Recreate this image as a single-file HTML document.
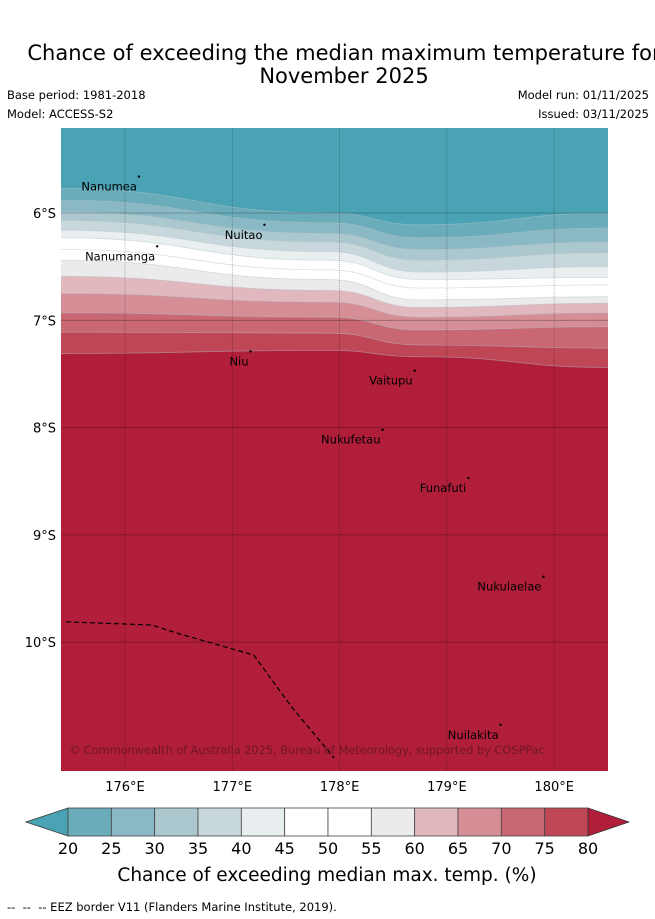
<!DOCTYPE html>
<html><head><meta charset="utf-8">
<style>
body{margin:0;background:#fff;font-family:"Liberation Sans","DejaVu Sans",sans-serif;}
#wrap{position:relative;width:655px;height:919px;overflow:hidden;}
.t{position:absolute;white-space:nowrap;color:#000;}
</style></head>
<body>
<div id="wrap">
<div class="t" style="left:0;width:688px;top:42px;text-align:center;font-size:21px;line-height:23px;font-family:'DejaVu Sans',sans-serif;">Chance of exceeding the median maximum temperature for<br>November 2025</div>
<div class="t" style="left:7px;top:88px;font-size:11.5px;font-family:'DejaVu Sans',sans-serif;">Base period: 1981-2018</div>
<div class="t" style="left:7px;top:107px;font-size:11.5px;font-family:'DejaVu Sans',sans-serif;">Model: ACCESS-S2</div>
<div class="t" style="right:6px;top:88px;font-size:11.5px;font-family:'DejaVu Sans',sans-serif;">Model run: 01/11/2025</div>
<div class="t" style="right:6px;top:107px;font-size:11.5px;font-family:'DejaVu Sans',sans-serif;">Issued: 03/11/2025</div>
<svg id="map" width="655" height="919" style="position:absolute;left:0;top:0;font-family:'DejaVu Sans',sans-serif;"></svg>
<div class="t" style="left:7px;top:900px;font-size:11.5px;font-family:'DejaVu Sans',sans-serif;">--&nbsp; --&nbsp; -- EEZ border V11 (Flanders Marine Institute, 2019).</div>
</div>
<script>
const lons=[175.4,177.9,178.75,180.5];
const levels=[20,25,30,35,40,45,50,55,60,65,70,75,80];
const bnd20=[5.77,6.00,6.11,6.00];
const bnd25=[5.88,6.09,6.23,6.14];
const bnd30=[5.99,6.19,6.34,6.27];
const bnd35=[6.07,6.27,6.44,6.37];
const bnd40=[6.16,6.36,6.55,6.50];
const bnd45=[6.23,6.44,6.62,6.60];
const bnd50=[6.34,6.53,6.70,6.67];
const bnd55=[6.44,6.62,6.81,6.78];
const bnd60=[6.59,6.72,6.88,6.84];
const bnd65=[6.75,6.83,6.97,6.93];
const bnd70=[6.93,6.97,7.09,7.06];
const bnd75=[7.11,7.12,7.23,7.26];
const bnd80=[7.31,7.28,7.34,7.44];
const boundaries=[bnd20,bnd25,bnd30,bnd35,bnd40,bnd45,bnd50,bnd55,bnd60,bnd65,bnd70,bnd75,bnd80];
const bandColors=["#4aa3b4","#6aacba","#8ab8c4","#abc8ce","#c8d7dc","#e9eff1","#ffffff","#ffffff","#ecebec","#e0b8be","#d58d96","#c96772","#bf4655"];
const highColor="#b01e39";
const lonTicks=[176,177,178,179,180];
const latTicks=[6,7,8,9,10];
const islandNames=["Nanumea","Nuitao","Nanumanga","Niu","Vaitupu","Nukufetau","Funafuti","Nukulaelae","Nuilakita"];
const islandLon=[176.13,177.3,176.3,177.17,178.7,178.4,179.2,179.9,179.5];
const islandLat=[5.66,6.11,6.31,7.29,7.47,8.02,8.47,9.39,10.77];
const eezLon=[175.45,176.25,176.5,177.2,177.55,177.95];
const eezLat=[9.81,9.84,9.92,10.12,10.6,11.08];

const X0=61,X1=608,Y0=128,Y1=771;
const sx=lon=>125+(lon-176)*107.3;
const sy=lat=>213+(lat-6)*107.3;
const NS="http://www.w3.org/2000/svg";
const svg=document.getElementById('map');
function mk(t,a){const e=document.createElementNS(NS,t);for(const k in a)e.setAttribute(k,a[k]);return e;}
const defs=mk('defs',{});const cp=mk('clipPath',{id:'cp'});cp.appendChild(mk('rect',{x:X0,y:Y0,width:X1-X0,height:Y1-Y0}));defs.appendChild(cp);svg.appendChild(defs);
const g=mk('g',{'clip-path':'url(#cp)'});svg.appendChild(g);
const bg=mk('rect',{x:X0,y:Y0,width:X1-X0,height:Y1-Y0,fill:highColor});


g.appendChild(bg);
function curve(b){
  const pts=lons.map((l,i)=>[sx(l),sy(b[i])]);
  pts[0][0]=X0-2;pts[pts.length-1][0]=X1+2;
  let d='M'+pts[0][0]+','+pts[0][1];
  for(let i=1;i<pts.length;i++){const p=pts[i-1],q=pts[i],mx=(p[0]+q[0])/2;d+=` C${mx},${p[1]} ${mx},${q[1]} ${q[0]},${q[1]}`;}
  return d;
}
for(let k=boundaries.length-1;k>=0;k--){
  const c=curve(boundaries[k]);
  const p=mk('path',{});
  const pts=lons.map((l,i)=>[i==0?X0-2:(i==lons.length-1?X1+2:sx(l)),sy(boundaries[k][i])]);
  let d=`M${X0-2},${Y0-2} L${X1+2},${Y0-2} L${pts[pts.length-1][0]},${pts[pts.length-1][1]}`;
  for(let i=pts.length-2;i>=0;i--){const p2=pts[i+1],q=pts[i],mx=(p2[0]+q[0])/2;d+=` C${mx},${p2[1]} ${mx},${q[1]} ${q[0]},${q[1]}`;}
  d+=' Z';
  p.setAttribute('d',d);p.setAttribute('fill',bandColors[k]);
  
  
  g.appendChild(p);
  const ln=mk('path',{d:c,fill:'none',stroke:'rgba(180,195,200,0.5)','stroke-width':0.8});
  
  
  g.appendChild(ln);
}
lonTicks.forEach(l=>{
  const x=sx(l);
  const gl=mk('line',{x1:x,x2:x,y1:Y0,y2:Y1,stroke:'rgba(0,0,0,0.35)','stroke-width':0.8,'stroke-dasharray':'1,1'});
  
  
  g.appendChild(gl);
  const t=mk('text',{x:x,y:791,'font-size':13,'text-anchor':'middle'});t.textContent=l+'°E';
  
  
  svg.appendChild(t);
});
latTicks.forEach(l=>{
  const y=sy(l);
  const gl=mk('line',{x1:X0,x2:X1,y1:y,y2:y,stroke:'rgba(0,0,0,0.3)','stroke-width':0.8});
  
  
  g.appendChild(gl);
  const t=mk('text',{x:56,y:y+5,'font-size':13,'text-anchor':'end'});t.textContent=l+'°S';
  
  
  svg.appendChild(t);
});
let ed='';eezLon.forEach((l,i)=>{ed+=(i?'L':'M')+sx(l)+','+sy(eezLat[i])+' ';});
const eez=mk('path',{d:ed,fill:'none',stroke:'#000','stroke-width':1.2,'stroke-dasharray':'5,3'});


g.appendChild(eez);
islandNames.forEach((n,i)=>{
  const x=sx(islandLon[i]),y=sy(islandLat[i]);
  const d=mk('circle',{cx:x,cy:y,r:1.2,fill:'#000'});
  
  
  g.appendChild(d);
  const t=mk('text',{x:x-2,y:y+14,'font-size':11.5,'text-anchor':'end',fill:'#000'});t.textContent=n;
  
  
  g.appendChild(t);
});
const cr=mk('text',{x:69,y:754,'font-size':11.3,fill:'rgba(90,20,30,0.75)'});cr.textContent='© Commonwealth of Australia 2025, Bureau of Meteorology, supported by COSPPac';


g.appendChild(cr);
const cbX0=68,cbW=(588-68)/12,cbY=808,cbH=28;
const lt=mk('polygon',{points:`${cbX0},${cbY} ${cbX0},${cbY+cbH} 26,${cbY+cbH/2}`,fill:bandColors[0],stroke:'#333','stroke-width':0.8});


svg.appendChild(lt);
for(let i=1;i<bandColors.length;i++){
  const r=mk('rect',{x:cbX0+(i-1)*cbW,y:cbY,width:cbW,height:cbH,fill:bandColors[i],stroke:'#444','stroke-width':0.8});
  
  
  svg.appendChild(r);
}
const rt=mk('polygon',{points:`588,${cbY} 588,${cbY+cbH} 629,${cbY+cbH/2}`,fill:highColor,stroke:'#333','stroke-width':0.8});


svg.appendChild(rt);
levels.forEach((v,i)=>{
  const t=mk('text',{x:cbX0+i*cbW,y:854,'font-size':16,'text-anchor':'middle'});t.textContent=v;
  
  
  svg.appendChild(t);
});
const ct=mk('text',{x:327,y:881,'font-size':18.5,'text-anchor':'middle'});ct.textContent='Chance of exceeding median max. temp. (%)';


svg.appendChild(ct);
</script>
</body></html>
